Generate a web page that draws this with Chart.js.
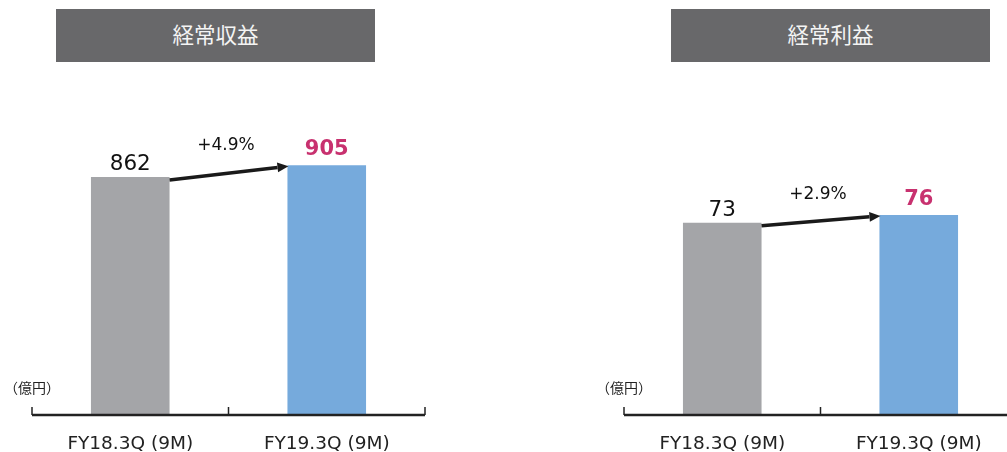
<!DOCTYPE html>
<html>
<head>
<meta charset="utf-8">
<script src="https://cdn.jsdelivr.net/npm/chart.js@4"></script>
<style>
  html, body { margin: 0; padding: 0; background: #fff; }
  body { width: 1007px; height: 452px; position: relative; overflow: hidden; }
  .title {
    position: absolute; top: 9px; height: 53px; width: 319px;
    background: #68686a; color: #f4f4f4;
    font: 21.5px "Noto Sans CJK JP", sans-serif;
    display: flex; align-items: center; justify-content: center;
    padding-bottom: 4px; box-sizing: border-box;
  }
  .box { position: absolute; top: 0; width: 460px; height: 452px; }
</style>
</head>
<body>
<div class="title" style="left:56px">経常収益</div>
<div class="title" style="left:671px">経常利益</div>
<div class="box" style="left:0px"><canvas id="revenue"></canvas></div>
<div class="box" style="left:592px"><canvas id="profit"></canvas></div>

<script>
const periods = ['FY18.3Q (9M)', 'FY19.3Q (9M)'];
const revenue = [862, 905];
const profit = [73, 76];
const revenueGrowth = '+4.9%';
const profitGrowth = '+2.9%';
const unitLabel = '（億円）';

const barColors = ['#a4a5a8', '#76aadc'];
const accent = '#c8316f';
const numFont = '"DejaVu Sans", Verdana, sans-serif';

// baseline, boundary ticks, value labels and the growth arrow
const annotate = {
  id: 'annotate',
  afterDatasetsDraw(chart, args, opts) {
    const { ctx, chartArea } = chart;
    const x = chart.scales.x;
    const bars = chart.getDatasetMeta(0).data;
    const half = (x.getPixelForTick(1) - x.getPixelForTick(0)) / 2;
    const baseY = chartArea.bottom + 1;

    ctx.save();
    ctx.strokeStyle = '#222';
    ctx.lineWidth = 2.5;
    ctx.beginPath();
    ctx.moveTo(chartArea.left, baseY);
    ctx.lineTo(chartArea.right, baseY);
    ctx.stroke();
    ctx.lineWidth = 1.5;
    [x.getPixelForTick(0) - half, x.getPixelForTick(0) + half, x.getPixelForTick(1) + half].forEach(px => {
      ctx.beginPath();
      ctx.moveTo(px, baseY);
      ctx.lineTo(px, baseY - 8);
      ctx.stroke();
    });

    // unit
    ctx.fillStyle = '#222';
    ctx.font = '14px "Noto Sans CJK JP", sans-serif';
    ctx.textAlign = 'left';
    ctx.textBaseline = 'middle';
    ctx.fillText(unitLabel, chartArea.left - 28, 388);

    // values
    const values = chart.data.datasets[0].data;
    ctx.textAlign = 'center';
    ctx.textBaseline = 'alphabetic';
    ctx.font = '21.5px ' + numFont;
    ctx.fillStyle = '#111';
    ctx.fillText(values[0], bars[0].x, bars[0].y - 7);
    ctx.font = 'bold 21px ' + numFont;
    ctx.fillStyle = accent;
    ctx.fillText(values[1], bars[1].x, bars[1].y - 10);

    // arrow between the bars
    const x0 = bars[0].x + bars[0].width / 2;
    const y0 = bars[0].y + 3;
    const x1 = bars[1].x - bars[1].width / 2 + 1;
    const y1 = bars[1].y + 1;
    const ang = Math.atan2(y1 - y0, x1 - x0);
    const head = 11;
    ctx.strokeStyle = '#1a1a1a';
    ctx.fillStyle = '#1a1a1a';
    ctx.lineWidth = 3.5;
    ctx.beginPath();
    ctx.moveTo(x0, y0);
    ctx.lineTo(x1 - head * Math.cos(ang), y1 - head * Math.sin(ang));
    ctx.stroke();
    ctx.beginPath();
    ctx.moveTo(x1, y1);
    ctx.lineTo(x1 - head * Math.cos(ang) - 5 * Math.sin(ang), y1 - head * Math.sin(ang) + 5 * Math.cos(ang));
    ctx.lineTo(x1 - head * Math.cos(ang) + 5 * Math.sin(ang), y1 - head * Math.sin(ang) - 5 * Math.cos(ang));
    ctx.closePath();
    ctx.fill();

    ctx.font = '17px ' + numFont;
    ctx.fillStyle = '#111';
    ctx.textBaseline = 'middle';
    ctx.fillText(opts.growth, (x0 + x1) / 2 - 3, bars[1].y - 20);
    ctx.restore();
  }
};

function makeChart(id, values, max, growth) {
  return new Chart(document.getElementById(id), {
    type: 'bar',
    data: {
      labels: periods,
      datasets: [{
        data: values,
        backgroundColor: barColors,
        categoryPercentage: 1,
        barPercentage: 0.4
      }]
    },
    options: {
      responsive: true,
      maintainAspectRatio: false,
      animation: false,
      layout: { padding: { left: 32, right: 35, top: 84, bottom: 0 } },
      plugins: {
        legend: { display: false },
        tooltip: { enabled: false },
        annotate: { growth: growth }
      },
      scales: {
        x: {
          grid: { display: false, drawTicks: false },
          border: { display: false },
          ticks: { color: '#222', padding: 19, font: { family: numFont, size: 18.5 } },
          afterFit(scale) { scale.height = 38; }
        },
        y: { display: false, min: 0, max: max }
      }
    },
    plugins: [annotate]
  });
}

makeChart('revenue', revenue, 1200, revenueGrowth);
makeChart('profit', profit, 126, profitGrowth);
</script>
</body>
</html>
